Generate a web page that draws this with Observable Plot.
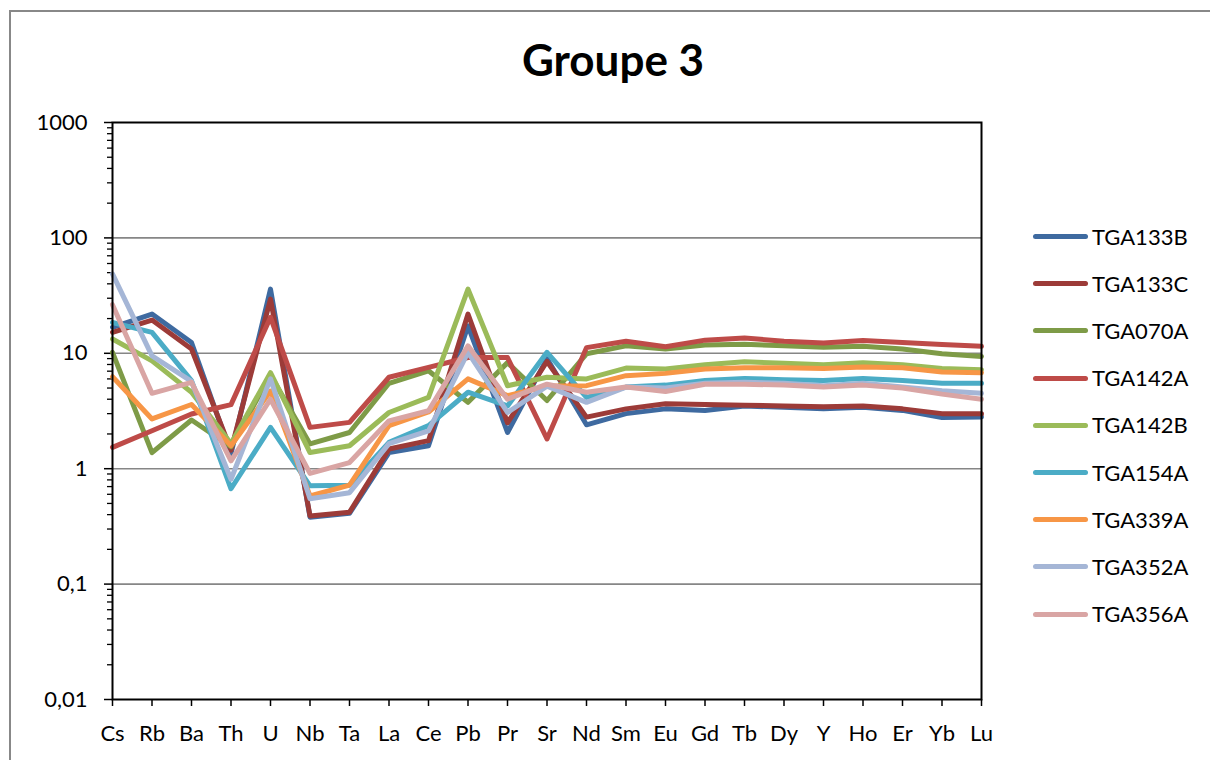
<!DOCTYPE html>
<html>
<head>
<meta charset="utf-8">
<script src="https://cdn.jsdelivr.net/npm/d3@7"></script>
<script src="https://cdn.jsdelivr.net/npm/@observablehq/plot@0.6"></script>
<style>
  html, body { margin:0; padding:0; background:#fff; overflow:hidden; }
  #wrap { position:relative; width:1210px; height:760px; font-family:Lato, "Open Sans", sans-serif; }
  #outer { position:absolute; left:9px; top:10px; width:1400px; height:900px; border:2px solid #888; box-sizing:border-box; }
  #title { position:absolute; left:0; width:1226px; top:33px; text-align:center; font-size:44px; font-weight:bold; color:#000; }
  #chart { position:absolute; left:0; top:0; }
  #chart svg { display:block; }
  #legend { position:absolute; left:1033px; top:213px; }
  .item { height:47.2px; display:flex; align-items:center; position:relative; }
  .sw { width:55px; height:5px; border-radius:3px; margin-right:4px; }
  .lab { font-size:22px; color:#000; line-height:26px; }
</style>
</head>
<body>
<div id="wrap">
  <div id="outer"></div>
  <div id="chart"></div>
  <div id="title">Groupe 3</div>
  <div id="legend"></div>
</div>
<script>
const elements = ["Cs","Rb","Ba","Th","U","Nb","Ta","La","Ce","Pb","Pr","Sr","Nd","Sm","Eu","Gd","Tb","Dy","Y","Ho","Er","Yb","Lu"];
const seriesNames = ["TGA133B","TGA133C","TGA070A","TGA142A","TGA142B","TGA154A","TGA339A","TGA352A","TGA356A"];
const seriesColors = ["#3E6AA0","#9C3B38","#7E9B47","#BE4B48","#9BBB59","#4BACC6","#F79646","#A5B6D6","#D9A5A4"];

const TGA133B = [16.8,21.9,12.4,1.35,36,0.38,0.41,1.38,1.58,17.3,2.06,9.0,2.4,3.0,3.3,3.2,3.5,3.4,3.3,3.4,3.2,2.78,2.8];
const TGA133C = [15.2,19.4,10.9,1.45,29.5,0.39,0.42,1.48,1.75,21.9,2.5,8.5,2.8,3.3,3.65,3.6,3.55,3.5,3.45,3.5,3.3,3.0,3.0];
const TGA070A = [10.2,1.38,2.64,1.55,6.5,1.64,2.06,5.5,7.06,3.76,8.3,3.9,9.9,11.6,10.9,11.8,12.0,11.6,11.3,11.5,10.9,9.9,9.4];
const TGA142A = [1.53,2.13,2.98,3.59,20.5,2.28,2.52,6.2,7.55,9.2,9.2,1.81,11.2,12.7,11.4,13.0,13.6,12.7,12.3,12.9,12.4,11.9,11.5];
const TGA142B = [13.3,8.6,4.6,1.65,6.8,1.38,1.58,3.07,4.15,36,5.24,6.2,6.0,7.45,7.3,7.96,8.45,8.2,7.96,8.3,7.96,7.4,7.2];
const TGA154A = [18.5,15.2,5.8,0.67,2.28,0.71,0.72,1.69,2.36,4.6,3.5,10.2,4.15,5.1,5.3,5.8,6.06,5.9,5.8,6.06,5.8,5.5,5.5];
const TGA339A = [6.26,2.7,3.6,1.58,4.7,0.58,0.72,2.36,3.1,6.0,4.3,5.2,5.24,6.4,6.7,7.3,7.5,7.5,7.4,7.6,7.5,6.9,6.8];
const TGA352A = [48.7,9.5,5.7,0.81,6.0,0.55,0.62,1.65,2.13,10.2,3.07,5.2,3.76,5.1,5.0,5.5,5.6,5.5,5.24,5.5,5.1,4.74,4.5];
const TGA356A = [26.4,4.5,5.6,1.17,4.0,0.91,1.13,2.6,3.18,11.6,4.0,5.4,4.6,5.1,4.67,5.4,5.4,5.3,5.1,5.3,5.0,4.43,4.0];

const yTickValues = [0.01,0.1,1,10,100,1000];
const yTickLabels = ["0,01","0,1","1","10","100","1000"];

const allSeries = [TGA133B,TGA133C,TGA070A,TGA142A,TGA142B,TGA154A,TGA339A,TGA352A,TGA356A];
const data = [];
allSeries.forEach((vals, i) => vals.forEach((v, j) => data.push({series: seriesNames[i], el: elements[j], v})));

const minorTicks = [];
for (let k = -2; k < 3; k++) for (let m = 2; m <= 9; m++) minorTicks.push(m * Math.pow(10, k));
const labelOf = new Map(yTickValues.map((v, i) => [v, yTickLabels[i]]));

const chart = Plot.plot({
  width: 1210, height: 760,
  marginLeft: 112, marginRight: 229, marginTop: 122, marginBottom: 61,
  style: {fontFamily: "Lato, 'Open Sans', sans-serif", fontSize: "22px", background: "transparent", color: "#000", overflow: "visible"},
  x: {type: "point", domain: elements, padding: 0, round: false, range: [112, 981]},
  y: {type: "log", domain: [0.01, 1000], range: [699, 122]},
  color: {domain: seriesNames, range: seriesColors},
  marks: [
    Plot.gridY([0.1, 1, 10, 100], {stroke: "#868686", strokeOpacity: 1, strokeWidth: 1.6}),
    Plot.axisY(minorTicks, {tickSize: 5, text: null, color: "#000", strokeWidth: 1.3, label: null}),
    Plot.axisY(yTickValues, {tickSize: 8, tickPadding: 17, tickFormat: d => labelOf.get(d), color: "#000", strokeWidth: 1.5, label: null}),
    Plot.axisX({tickSize: 7, tickPadding: 19, color: "#000", strokeWidth: 1.5, label: null}),
    Plot.line(data, {x: "el", y: "v", z: "series", stroke: "series", strokeWidth: 5}),
    Plot.frame({stroke: "#000", strokeWidth: 2})
  ]
});
document.getElementById("chart").appendChild(chart);

const legend = document.getElementById("legend");
seriesNames.forEach((name, i) => {
  const it = document.createElement("div");
  it.className = "item";
  const sw = document.createElement("div");
  sw.className = "sw";
  sw.style.background = seriesColors[i];
  const lab = document.createElement("span");
  lab.className = "lab";
  lab.textContent = name;
  it.appendChild(sw); it.appendChild(lab);
  legend.appendChild(it);
});
</script>
</body>
</html>
